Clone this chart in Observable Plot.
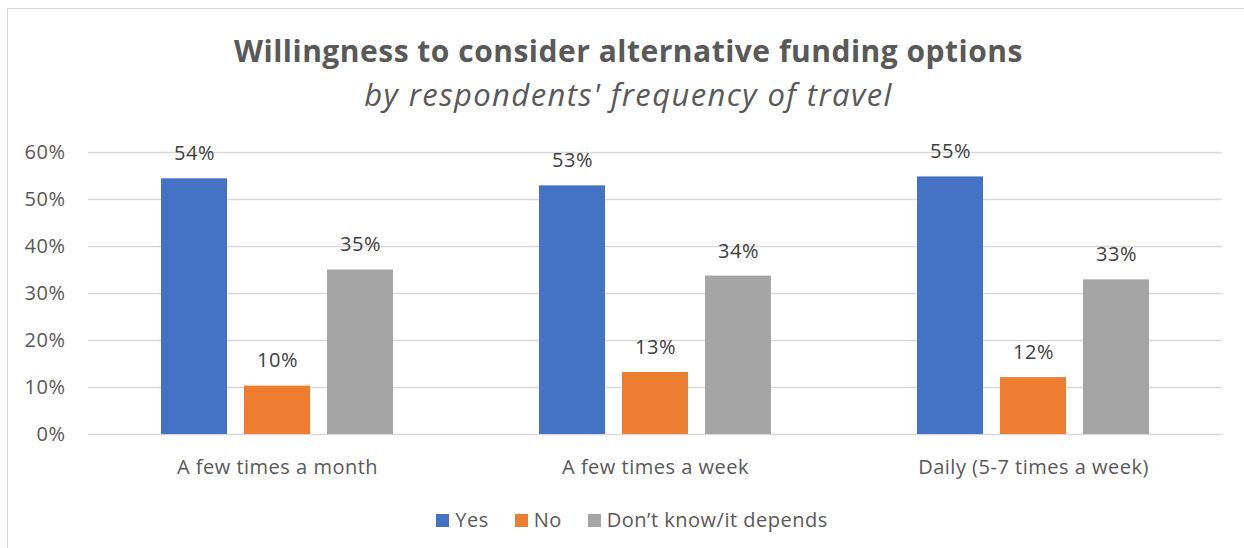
<!DOCTYPE html>
<html>
<head>
<meta charset="utf-8">
<script src="https://cdn.jsdelivr.net/npm/d3@7"></script>
<script src="https://cdn.jsdelivr.net/npm/@observablehq/plot@0.6"></script>
<style>
  html, body { margin: 0; padding: 0; background: #fff; }
  #page { position: relative; width: 1244px; height: 548px; overflow: hidden; font-family: "Open Sans", sans-serif; }
  #frame { position: absolute; left: 7px; top: 8px; width: 1260px; height: 560px; border: 1px solid #d9d9d9; box-sizing: border-box; }
  #title { position: absolute; left: 0; width: 1257px; top: 31px; text-align: center; font-size: 30px; letter-spacing: 0.5px; font-weight: bold; color: #595959; line-height: 40px; white-space: nowrap; }
  #subtitle { position: absolute; left: 0; width: 1257px; top: 74px; text-align: center; font-size: 31px; letter-spacing: 1.4px; font-style: italic; color: #595959; line-height: 40px; white-space: nowrap; }
  #chart { position: absolute; left: 0; top: 130px; }
  #chart text { letter-spacing: 0.5px; }
  #legend { position: absolute; left: 0; width: 1264px; top: 507px; display: flex; justify-content: center; font-size: 20px; letter-spacing: 0.5px; color: #595959; line-height: 26px; }
  .item { display: flex; align-items: center; margin: 0 13px; }
  .sw { width: 13px; height: 13px; margin-right: 6px; }
</style>
</head>
<body>
<div id="page">
  <div id="frame"></div>
  <div id="title"></div>
  <div id="subtitle"></div>
  <div id="chart"></div>
  <div id="legend"></div>
</div>
<script>
const titleText = "Willingness to consider alternative funding options";
const subtitleText = "by respondents' frequency of travel";
const categories = ["A few times a month", "A few times a week", "Daily (5-7 times a week)"];
const responses = ["Yes", "No", "Don’t know/it depends"];
const yesValues = [54.4, 52.9, 54.8];
const noValues = [10.3, 13.2, 12.1];
const dontKnowValues = [35.0, 33.7, 32.9];
const colors = ["#4472c4", "#ed7d31", "#a5a5a5"];
const yTicks = [0, 10, 20, 30, 40, 50, 60];

document.getElementById("title").textContent = titleText;
document.getElementById("subtitle").textContent = subtitleText;

const seriesValues = [yesValues, noValues, dontKnowValues];
const data = [];
categories.forEach((c, i) => {
  responses.forEach((r, j) => {
    data.push({category: c, response: r, value: seriesValues[j][i]});
  });
});

const plot = Plot.plot({
  width: 1244,
  height: 360,
  marginLeft: 88,
  marginRight: 22,
  marginTop: 22,
  marginBottom: 56,
  style: {fontFamily: "'Open Sans', sans-serif", fontSize: "20px", color: "#595959", background: "transparent"},
  fx: {domain: categories, padding: 0, axis: "bottom", label: null, tickSize: 0, tickPadding: 25},
  x: {domain: responses, axis: null, paddingInner: 0.21, paddingOuter: 0.86},
  y: {domain: [0, 60], ticks: yTicks, tickFormat: d => d + "%", tickSize: 0, tickPadding: 23, label: null},
  color: {domain: responses, range: colors},
  marks: [
    Plot.ruleY(yTicks, {stroke: "#d9d9d9", strokeWidth: 1.3}),
    Plot.barY(data, {fx: "category", x: "response", y: "value", fill: "response"}),
    Plot.text(data, {fx: "category", x: "response", y: "value", text: d => Math.round(d.value) + "%", dy: -25, lineAnchor: "middle", fill: "#404040", fontSize: 20})
  ]
});
document.getElementById("chart").appendChild(plot);

const legend = document.getElementById("legend");
responses.forEach((r, j) => {
  const item = document.createElement("div");
  item.className = "item";
  const sw = document.createElement("div");
  sw.className = "sw";
  sw.style.background = colors[j];
  const t = document.createElement("span");
  t.textContent = r;
  item.appendChild(sw);
  item.appendChild(t);
  legend.appendChild(item);
});
</script>
</body>
</html>
